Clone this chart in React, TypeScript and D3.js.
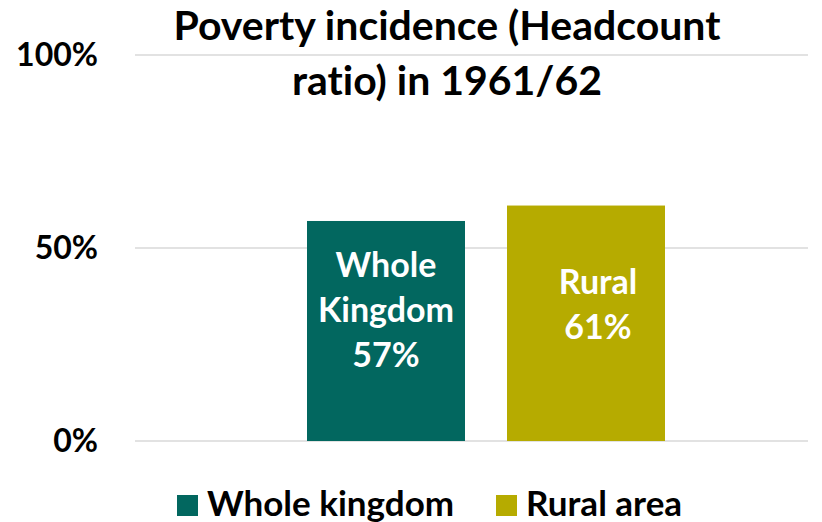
import React, { useEffect, useRef } from 'react';
import * as d3 from 'd3';

const series = ['Whole kingdom', 'Rural area'];
const values = [0.57, 0.61];
const colors = ['#02675f', '#b6ab00'];
const barLabels = [['Whole', 'Kingdom', '57%'], ['Rural', '61%']];
const yTicks = [0, 0.5, 1];
const titleLines = ['Poverty incidence (Headcount', 'ratio) in 1961/62'];

const W = 822;
const H = 522;
const FONT = 'Lato, "Open Sans", sans-serif';

const App = () => {
  const ref = useRef<SVGSVGElement>(null);

  useEffect(() => {
    const svg = d3.select(ref.current);
    svg.selectAll('*').remove();

    const y = d3.scaleLinear().domain([0, 1]).range([441, 55]);
    const x = d3.scaleBand<string>().domain(series).range([307, 665]).paddingInner(0.21);

    // gridlines
    svg.append('g')
      .selectAll('line')
      .data(yTicks)
      .join('line')
      .attr('x1', 135)
      .attr('x2', 808)
      .attr('y1', d => y(d))
      .attr('y2', d => y(d))
      .attr('stroke', '#d9d9d9')
      .attr('stroke-width', 1.5);

    // y labels
    svg.append('g')
      .selectAll('text')
      .data(yTicks)
      .join('text')
      .attr('x', 98)
      .attr('y', d => y(d) + 11)
      .attr('text-anchor', 'end')
      .attr('font-family', FONT)
      .attr('font-weight', 'bold')
      .attr('font-size', 32)
      .attr('fill', '#000')
      .text(d => d3.format('.0%')(d));

    // bars
    svg.append('g')
      .selectAll('rect')
      .data(series)
      .join('rect')
      .attr('x', d => x(d)!)
      .attr('width', x.bandwidth())
      .attr('y', (d, i) => y(values[i]))
      .attr('height', (d, i) => y(0) - y(values[i]))
      .attr('fill', (d, i) => colors[i]);

    // bar labels
    series.forEach((s, i) => {
      const lines = barLabels[i];
      const cx = x(s)! + x.bandwidth() / 2 + (i === 1 ? 12 : 0);
      const top = y(values[i]) + (i === 0 ? 56 : 88);
      const t = svg.append('text')
        .attr('text-anchor', 'middle')
        .attr('font-family', FONT)
        .attr('font-weight', 'bold')
        .attr('font-size', 34)
        .attr('fill', '#fff');
      lines.forEach((l, j) => {
        t.append('tspan').attr('x', cx).attr('y', top + j * 45).text(l);
      });
    });

    // title
    const title = svg.append('text')
      .attr('text-anchor', 'middle')
      .attr('font-family', FONT)
      .attr('font-weight', 'bold')
      .attr('font-size', 41)
      .style('font-variant-ligatures', 'none')
      .attr('fill', '#000');
    titleLines.forEach((l, j) => {
      title.append('tspan').attr('x', 447).attr('y', 40 + j * 55).text(l);
    });

    // legend
    const legendX = [177, 496];
    const lg = svg.append('g')
      .selectAll('g')
      .data(series)
      .join('g')
      .attr('transform', (d, i) => `translate(${legendX[i]},0)`);
    lg.append('rect')
      .attr('x', 0)
      .attr('y', 495)
      .attr('width', 21)
      .attr('height', 21)
      .attr('fill', (d, i) => colors[i]);
    lg.append('text')
      .attr('x', 30)
      .attr('y', 516)
      .attr('font-family', FONT)
      .attr('font-weight', 'bold')
      .attr('font-size', 35)
      .attr('fill', '#000')
      .text(d => d);
  }, []);

  return (
    <svg ref={ref} width={W} height={H} style={{ position: 'absolute', left: 0, top: 0, background: '#fff' }} />
  );
};

export default App;
